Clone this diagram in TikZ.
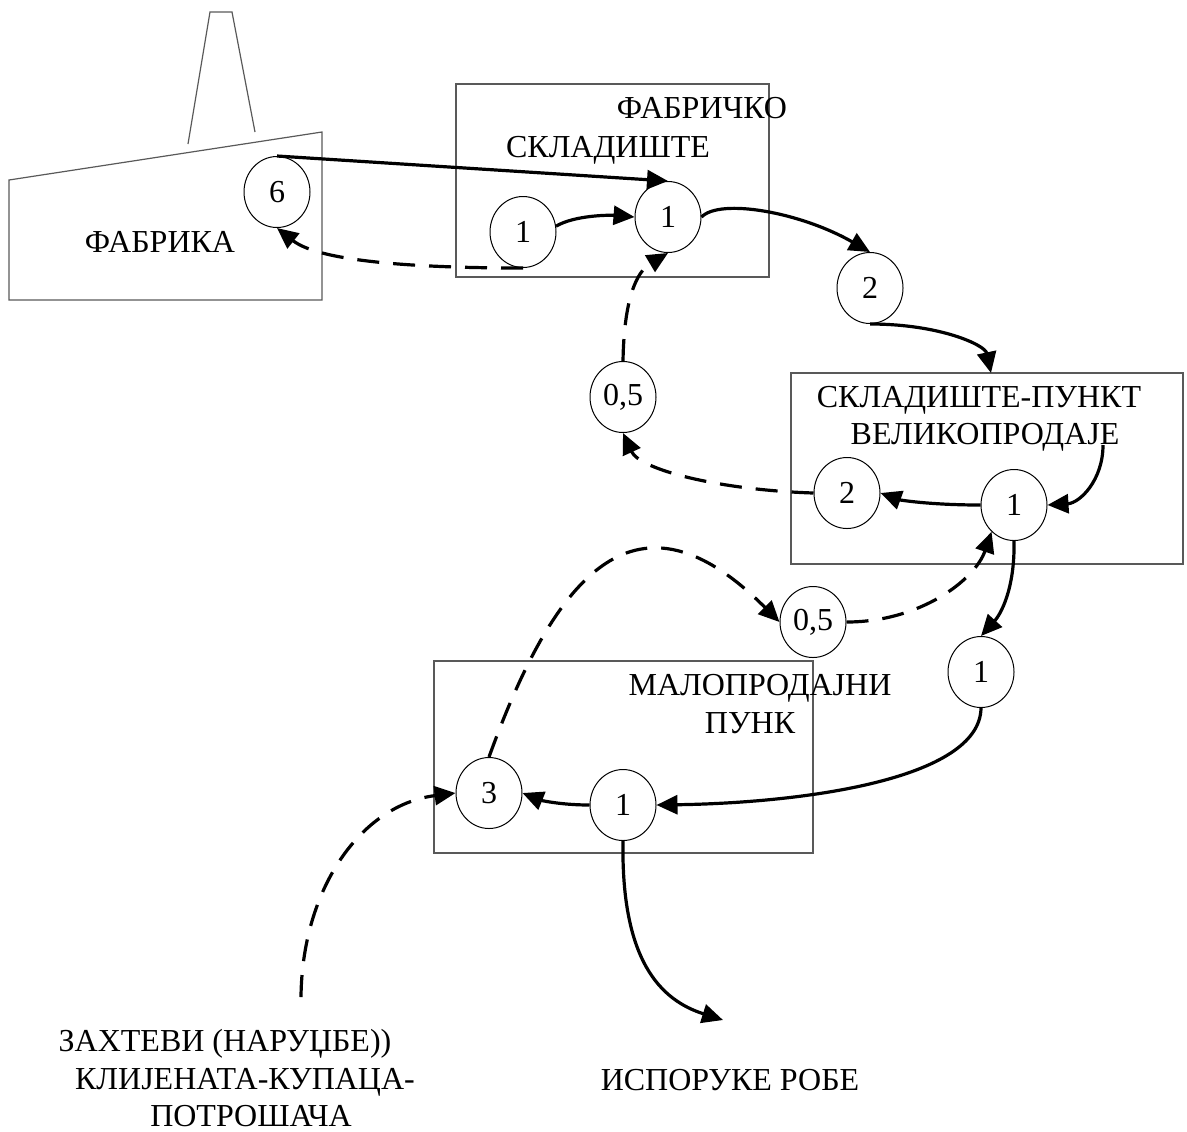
\documentclass[tikz,border=0pt]{standalone}
\usepackage{fontspec}
\setmainfont{Liberation Serif}
\usetikzlibrary{arrows.meta,shapes.geometric}
\begin{document}
\begin{tikzpicture}[x=0.5pt,y=-0.5pt,
  outline/.style={draw=black!65,line width=0.6pt},
  qty/.style={ellipse,draw,fill=white,line width=0.5pt,minimum width=33pt,
    minimum height=35.5pt,inner sep=0pt,font=\fontsize{16}{19}\selectfont},
  lbl/.style={anchor=base,inner sep=0pt,font=\fontsize{16}{19}\selectfont},
  flow/.style={line width=1.6pt,-{Triangle[length=10.5pt,width=9.5pt]}},
  info/.style={flow,dash pattern=on 11pt off 7pt},
]
\useasboundingbox (0,0) rectangle (1187,1131);

% factory building with its chimney
\draw[outline] (9,180) -- (322,132) -- (322,300) -- (9,300) -- cycle;
\draw[outline] (188,144) -- (210,12) -- (232,12) -- (255,132);

% storage and retail boxes
\draw[outline] (456,84) rectangle (769,277);
\draw[outline] (791,373) rectangle (1183,564);
\draw[outline] (434,661) rectangle (813,853);

% labels
\node[lbl] (tFab) at (160,252) {ФАБРИКА};
\node[lbl] (tFs1) at (702,118) {ФАБРИЧКО};
\node[lbl] (tFs2) at (608,157) {СКЛАДИШТЕ};
\node[lbl] (tWh1) at (979,407) {СКЛАДИШТЕ-ПУНКТ};
\node[lbl] (tWh2) at (985,444) {ВЕЛИКОПРОДАЈЕ};
\node[lbl] (tRt1) at (760,695) {МАЛОПРОДАЈНИ};
\node[lbl] (tRt2) at (750,733) {ПУНК};
\node[lbl] (tReq1) at (225,1051) {ЗАХТЕВИ (НАРУЏБЕ))};
\node[lbl] (tReq2) at (245,1089) {КЛИЈЕНАТА-КУПАЦА-};
\node[lbl] (tReq3) at (251,1126) {ПОТРОШАЧА};
\node[lbl] (tDel) at (730,1090) {ИСПОРУКЕ РОБЕ};

% quantity circles
\node[qty] (c6)  at (277,192) {6};
\node[qty] (w1a) at (523,232) {1};
\node[qty] (w1b) at (668,217) {1};
\node[qty] (c2)  at (870,288) {2};
\node[qty] (u05) at (623,397) {0,5};
\node[qty] (r2)  at (847,493) {2};
\node[qty] (r1)  at (1014,505) {1};
\node[qty] (l05) at (813,622) {0,5};
\node[qty] (m1)  at (981,672) {1};
\node[qty] (rt1) at (623,805) {1};
\node[qty] (c3)  at (489,793) {3};

% free ends
\coordinate (whTop) at (991,373);
\coordinate (wbIn) at (1103,445);
\coordinate (reqStart) at (301,997);
\coordinate (delivEnd) at (723,1020);

% goods flow
\draw[flow] (c6.north) -- (w1b.north);
\draw[flow] (w1a.10) .. controls (575,215) and (610,215) .. (w1b.west);
\draw[flow] (w1b.east) .. controls (720,198) and (800,212) .. (c2.north);
\draw[flow] (c2.south) .. controls (940,324) and (985,345) .. (whTop);
\draw[flow] (wbIn) .. controls (1103,480) and (1080,503) .. (r1.east);
\draw[flow] (r1.west) .. controls (930,505) and (900,500) .. (r2.east);
\draw[flow] (r1.south) .. controls (1015,590) and (1000,615) .. (m1.north);
\draw[flow] (m1.south) .. controls (980,780) and (800,803) .. (rt1.east);
\draw[flow] (rt1.west) .. controls (560,805) and (540,800) .. (c3.east);
\draw[flow] (rt1.south) .. controls (621,960) and (660,1000) .. (delivEnd);

% order (information) flow
\draw[info] (w1a.south) .. controls (420,268) and (320,262) .. (c6.south);
\draw[info] (r2.west) .. controls (720,490) and (640,470) .. (u05.south);
\draw[info] (u05.north) .. controls (624,300) and (636,272) .. (w1b.south);
\draw[info] (l05.east) .. controls (920,622) and (975,580) .. (r1.230);
\draw[info] (c3.north) .. controls (557,569) and (638,480) .. (l05.west);
\draw[info] (reqStart) .. controls (302,890) and (360,805) .. (c3.west);
\end{tikzpicture}
\end{document}
